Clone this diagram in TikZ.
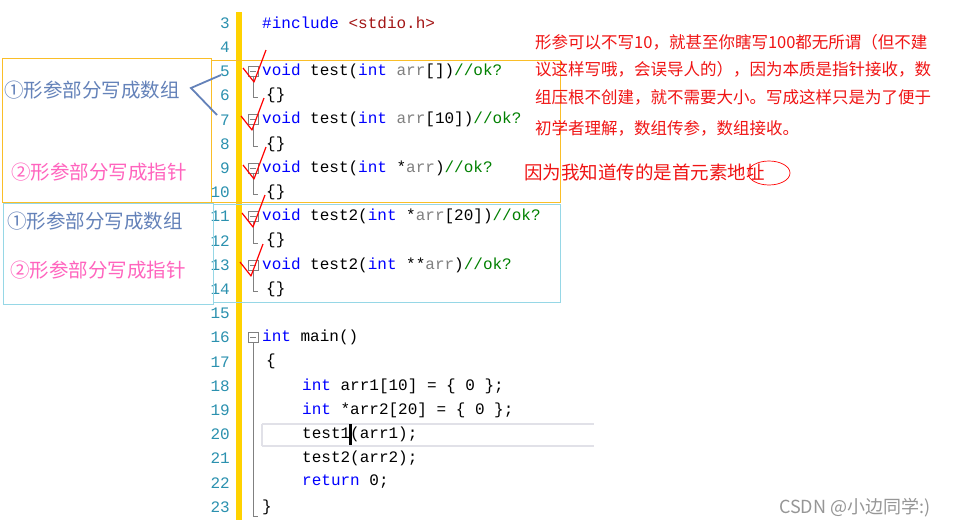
\documentclass[tikz,border=0pt]{standalone}
\usepackage{fontspec}
\setmonofont{Liberation Mono}
\newfontfamily\cjk{Noto Sans CJK SC}
\definecolor{kw}{RGB}{0,0,255}
\definecolor{argc}{RGB}{128,128,128}
\definecolor{cmc}{RGB}{0,128,0}
\definecolor{strc}{RGB}{163,21,21}
\definecolor{lnc}{RGB}{43,145,175}
\definecolor{yelbar}{RGB}{255,210,0}
\definecolor{obox}{RGB}{250,190,40}
\definecolor{cbox}{RGB}{150,215,230}
\definecolor{bluet}{RGB}{100,130,185}
\definecolor{pinkt}{RGB}{255,100,190}
\definecolor{redt}{RGB}{240,20,20}
\newcommand{\kwd}[1]{\textcolor{kw}{#1}}
\newcommand{\argn}[1]{\textcolor{argc}{#1}}
\newcommand{\cmt}[1]{\textcolor{cmc}{#1}}
\begin{document}
\begin{tikzpicture}[x=1pt,y=-1pt,
  code/.style={anchor=west,inner sep=0pt,font=\ttfamily\fontsize{16}{16}\selectfont},
  lnum/.style={anchor=east,inner sep=0pt,text=lnc,font=\ttfamily\fontsize{16}{16}\selectfont},
  lab/.style={anchor=west,inner sep=0pt,font=\cjk\fontsize{19.5}{19.5}\selectfont},
  redl/.style={anchor=west,inner sep=0pt,text=redt,font=\cjk\fontsize{16.5}{16.5}\selectfont},
  fold/.style={draw=gray,fill=white,line width=0.6pt},
  chk/.style={draw=red,line width=1.2pt,line join=round},
  ]
\useasboundingbox (0,0) rectangle (956,528);
\fill[white] (0,0) rectangle (956,528);
% line 20 highlight
\draw[draw={rgb,255:red,225;green,225;blue,232},line width=1.5pt] (262,424) -- (594,424) (262,446) -- (594,446) (262,424) -- (262,446);
% yellow bar
\fill[fill=yelbar] (236,12) rectangle (242,520);
% line numbers
\foreach \n in {3,...,23}{
  \node[lnum] (ln\n) at (230,{23+(\n-3)*24.2}) {\n};
}
% fold guides
\draw[gray,line width=0.6pt] (253,76) -- (253,97) -- (258,97);
\draw[gray,line width=0.6pt] (253,124) -- (253,146) -- (258,146);
\draw[gray,line width=0.6pt] (253,173) -- (253,194) -- (258,194);
\draw[gray,line width=0.6pt] (253,221) -- (253,243) -- (258,243);
\draw[gray,line width=0.6pt] (253,270) -- (253,291) -- (258,291);
\draw[gray,line width=0.6pt] (253,342) -- (253,516) -- (258,516);
\foreach \y in {71,119,168,216,265,337}{
  \draw[fold] (248,{\y-5}) rectangle (258,{\y+5});
  \draw[gray,line width=0.6pt] (250,\y) -- (256,\y);
}
% code
\node[code] (c3) at (262,23) {\kwd{\#include} \textcolor{strc}{<stdio.h>}};
\node[code] (c5) at (262,71) {\kwd{void} test(\kwd{int} \argn{arr}[])\cmt{//ok?}};
\node[code] (c6) at (266,95) {\{\}};
\node[code] (c7) at (262,119) {\kwd{void} test(\kwd{int} \argn{arr}[10])\cmt{//ok?}};
\node[code] (c8) at (266,144) {\{\}};
\node[code] (c9) at (262,168) {\kwd{void} test(\kwd{int} *\argn{arr})\cmt{//ok?}};
\node[code] (c10) at (266,192) {\{\}};
\node[code] (c11) at (262,216) {\kwd{void} test2(\kwd{int} *\argn{arr}[20])\cmt{//ok?}};
\node[code] (c12) at (266,240) {\{\}};
\node[code] (c13) at (262,265) {\kwd{void} test2(\kwd{int} **\argn{arr})\cmt{//ok?}};
\node[code] (c14) at (266,289) {\{\}};
\node[code] (c16) at (262,337) {\kwd{int} main()};
\node[code] (c17) at (266,361) {\{};
\node[code] (c18) at (302,386) {\kwd{int} arr1[10] = \{ 0 \};};
\node[code] (c19) at (302,410) {\kwd{int} *arr2[20] = \{ 0 \};};
\node[code] (c20) at (302,434) {test1(arr1);};
\node[code] (c21) at (302,458) {test2(arr2);};
\node[code] (c22) at (302,482) {\kwd{return} 0;};
\node[code] (c23) at (262,507) {\}};
\fill[black] (349,424) rectangle (352,445);
% boxes
\draw[obox,line width=0.8pt] (2.5,58) rectangle (211,202);
\draw[obox,line width=0.8pt] (211,60) rectangle (560,202);
\draw[cbox,line width=0.8pt] (3,203) rectangle (213,304);
\draw[cbox,line width=0.8pt] (213,204) rectangle (560,302);
% left labels
\node[lab,text=bluet] (l1) at (4,90) {①形参部分写成数组};
\node[lab,text=pinkt] (l2) at (11,172) {②形参部分写成指针};
\node[lab,text=bluet] (l3) at (7,221) {①形参部分写成数组};
\node[lab,text=pinkt] (l4) at (10,270) {②形参部分写成指针};
% V lines
\coordinate (v0) at (191,88);
\coordinate (v1) at (221,75);
\coordinate (v2) at (217,115);
\draw[bluet,line width=1.8pt] (v1) -- (v0) -- (v2);
% checks
\foreach \y/\dx in {71/0,119/-2,168/0,216/-1,265/-3}{
  \draw[chk] ({243+\dx},{\y-3}) -- ({254+\dx},{\y+11}) -- ({266+\dx},{\y-21});
}
% red notes
\node[redl] (r1) at (535,42) {形参可以不写10，就甚至你瞎写100都无所谓（但不建};
\node[redl] (r2) at (535,69) {议这样写哦，会误导人的），因为本质是指针接收，数};
\node[redl] (r3) at (535,97) {组压根不创建，就不需要大小。写成这样只是为了便于};
\node[redl] (r4) at (535,128) {初学者理解，数组传参，数组接收。};
\node[anchor=west,inner sep=0pt,text=redt,font=\cjk\fontsize{18.5}{18.5}\selectfont] (r5) at (524,172) {因为我知道传的是首元素地址};
\draw[red,line width=0.7pt] (769,173) ellipse (21 and 12);
% watermark
\node[anchor=west,inner sep=0pt,text={rgb,255:red,150;green,150;blue,150},font=\cjk\fontsize{18}{18}\selectfont] (wm) at (779,508) {CSDN @小边同学:)};
\end{tikzpicture}
\end{document}
